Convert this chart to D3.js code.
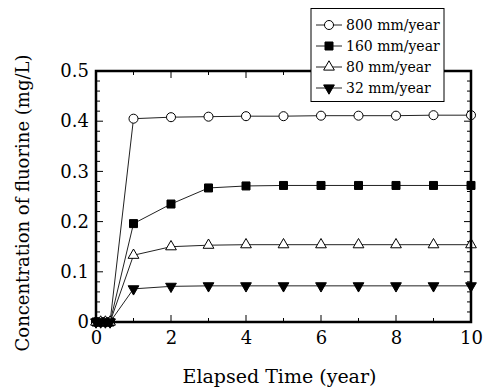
<!DOCTYPE html>
<html><head><meta charset="utf-8">
<script src="https://cdn.jsdelivr.net/npm/d3@7"></script>
<style>body{margin:0;background:#fff}svg{display:block}</style>
</head><body><svg id="c" width="483" height="390"></svg>
<script>
const times = [0, 0.125, 0.25, 0.375, 1, 2, 3, 4, 5, 6, 7, 8, 9, 10];
const seriesNames = ["800 mm/year", "160 mm/year", "80 mm/year", "32 mm/year"];
const s800 = [0, 0, 0, 0, 0.405, 0.408, 0.409, 0.410, 0.410, 0.411, 0.411, 0.411, 0.412, 0.412];
const s160 = [0, 0, 0, 0, 0.196, 0.235, 0.267, 0.271, 0.272, 0.272, 0.272, 0.272, 0.272, 0.272];
const s80  = [0, 0, 0, 0, 0.133, 0.150, 0.153, 0.154, 0.154, 0.154, 0.154, 0.154, 0.154, 0.154];
const s32  = [0, 0, 0, 0, 0.066, 0.071, 0.072, 0.072, 0.072, 0.072, 0.072, 0.072, 0.072, 0.072];
const markers = ["circle", "square", "triangle", "triangleDown"];
const xTicks = [0, 2, 4, 6, 8, 10];
const yTicks = [0, 0.1, 0.2, 0.3, 0.4, 0.5];
const yTickLabels = ["0", "0.1", "0.2", "0.3", "0.4", "0.5"];

const FONT = "DejaVu Serif";
const allSeries = [s800, s160, s80, s32];
const svg = d3.select("#c");
const L = 96, R = 471, T = 71, B = 322;
const x = d3.scaleLinear().domain([0, 10]).range([L, R]);
const y = d3.scaleLinear().domain([0, 0.5]).range([B, T]);

const g = svg.append("g");
const xMinor = d3.range(0, 10.001, 1);
const yMinor = d3.range(0, 0.5001, 0.02);
xMinor.forEach(v => {
  const len = (Math.round(v) % 2 === 0) ? 7 : 4;
  g.append("line").attr("x1", x(v)).attr("x2", x(v)).attr("y1", B).attr("y2", B - len).attr("stroke", "#000").attr("stroke-width", 1);
  g.append("line").attr("x1", x(v)).attr("x2", x(v)).attr("y1", T).attr("y2", T + len).attr("stroke", "#000").attr("stroke-width", 1);
});
yMinor.forEach((v, i) => {
  const len = (i % 5 === 0) ? 7 : 4;
  g.append("line").attr("x1", L).attr("x2", L + len).attr("y1", y(v)).attr("y2", y(v)).attr("stroke", "#000").attr("stroke-width", 1);
  g.append("line").attr("x1", R).attr("x2", R - len).attr("y1", y(v)).attr("y2", y(v)).attr("stroke", "#000").attr("stroke-width", 1);
});

const xa = svg.append("g").attr("transform", `translate(0,${B})`)
  .call(d3.axisBottom(x).tickValues(xTicks).tickSize(0).tickPadding(9).tickFormat(d3.format("d")));
xa.attr("font-family", FONT).attr("font-size", 18);
xa.select(".domain").remove();
xa.selectAll("text").attr("dy", "0.71em");
const ya = svg.append("g").attr("transform", `translate(${L},0)`)
  .call(d3.axisLeft(y).tickValues(yTicks).tickSize(0).tickPadding(7).tickFormat((d, i) => yTickLabels[i]));
ya.attr("font-family", FONT).attr("font-size", 18);
ya.select(".domain").remove();

const line = d3.line().x((d, i) => x(times[i])).y(d => y(d));
const sym = {
  circle: d3.symbol(d3.symbolCircle, 64),
  square: d3.symbol(d3.symbolSquare, 64),
  triangle: d3.symbol(d3.symbolTriangle, 50),
  triangleDown: d3.symbol(d3.symbolTriangle, 50)
};
function drawMarker(sel, type, cx, cy) {
  sel.append("path").attr("d", sym[type]())
    .attr("transform", `translate(${cx},${cy})` + (type === "triangleDown" ? " rotate(180)" : ""))
    .attr("stroke", "#000").attr("stroke-width", 1)
    .attr("fill", (type === "circle" || type === "triangle") ? "#fff" : "#000");
}
allSeries.forEach(s => {
  svg.append("path").attr("d", line(s)).attr("fill", "none").attr("stroke", "#222").attr("stroke-width", 1);
});
allSeries.forEach((s, k) => {
  const gg = svg.append("g");
  s.forEach((v, i) => drawMarker(gg, markers[k], x(times[i]), y(v)));
});

svg.append("rect").attr("x", L).attr("y", T).attr("width", R - L).attr("height", B - T)
  .attr("fill", "none").attr("stroke", "#000").attr("stroke-width", 2.5);

const lg = svg.append("g");
lg.append("rect").attr("x", 311).attr("y", 8.5).attr("width", 133).attr("height", 93)
  .attr("fill", "#fff").attr("stroke", "#000").attr("stroke-width", 1);
seriesNames.forEach((nm, k) => {
  const cy = 25 + k * 21;
  lg.append("line").attr("x1", 316).attr("x2", 342).attr("y1", cy).attr("y2", cy).attr("stroke", "#222").attr("stroke-width", 1);
  drawMarker(lg, markers[k], 329, cy);
  lg.append("text").attr("x", 346).attr("y", cy).attr("dy", "0.35em").attr("font-family", FONT).attr("font-size", 14).text(nm);
});

svg.append("text").attr("x", (L + R) / 2 - 4).attr("y", 383).attr("text-anchor", "middle").attr("font-family", FONT).attr("font-size", 19).text("Elapsed Time (year)");
svg.append("text").attr("transform", `translate(29,203) rotate(-90)`).attr("text-anchor", "middle").attr("font-family", FONT).attr("font-size", 18).text("Concentration of fluorine (mg/L)");
</script></body></html>
